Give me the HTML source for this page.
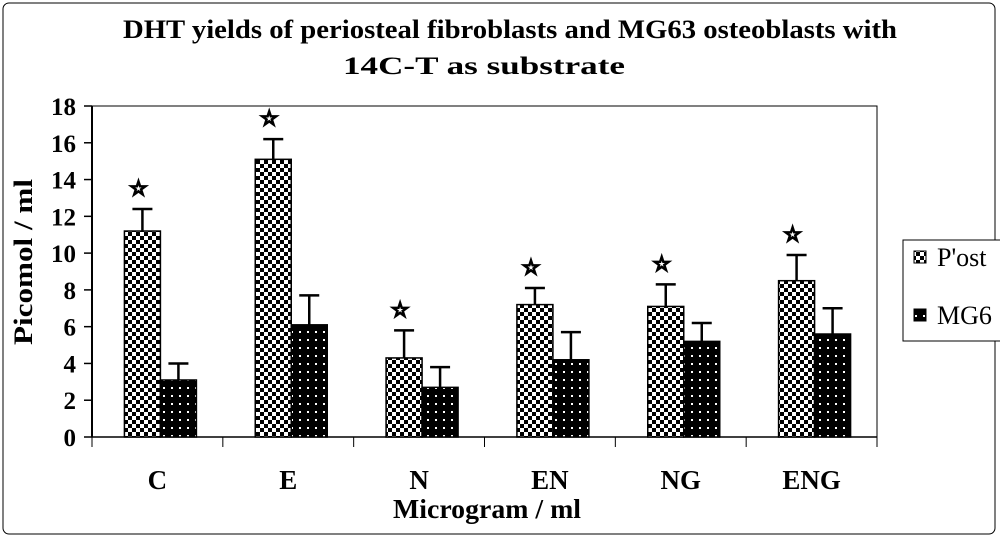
<!DOCTYPE html>
<html><head><meta charset="utf-8"><style>
body{margin:0;background:#fff;width:1000px;height:539px;overflow:hidden}
text{font-family:"Liberation Serif",serif}
</style></head><body>
<svg width="1000" height="539" viewBox="0 0 1000 539">
<defs>
<pattern id="chk" width="8" height="8" patternUnits="userSpaceOnUse">
<rect width="8" height="8" fill="#fff"/><rect width="4" height="4" fill="#000"/><rect x="4" y="4" width="4" height="4" fill="#000"/>
</pattern>
<pattern id="dots" width="8" height="8" patternUnits="userSpaceOnUse">
<rect width="8" height="8" fill="#000"/><rect x="3" y="3" width="2" height="2" fill="#fff"/>
</pattern>
</defs>
<rect x="3" y="3" width="992" height="531" rx="6" fill="#fff" stroke="#000" stroke-width="1"/>
<text x="123" y="38" textLength="774" lengthAdjust="spacingAndGlyphs" font-size="26" font-weight="bold">DHT yields of periosteal fibroblasts and MG63 osteoblasts with</text>
<text x="343" y="74" textLength="282" lengthAdjust="spacingAndGlyphs" font-size="25" font-weight="bold">14C-T as substrate</text>
<rect x="92" y="106" width="785" height="331" fill="none" stroke="#000" stroke-width="1"/>
<g id="axes"></g>
<g id="bars"></g>
<text x="32" y="262" transform="rotate(-90 32 262)" text-anchor="middle" textLength="166" lengthAdjust="spacingAndGlyphs" font-size="26" font-weight="bold">Picomol / ml</text>
<text x="487" y="518" text-anchor="middle" textLength="188" lengthAdjust="spacingAndGlyphs" font-size="27" font-weight="bold">Microgram / ml</text>
<g>
<rect x="903" y="240" width="100" height="101" fill="#fff" stroke="#000" stroke-width="1"/>
<rect x="914" y="251" width="12" height="12" fill="url(#chk)" stroke="#000"/>
<text x="937" y="266" font-size="26">P'ost</text>
<rect x="914" y="309" width="12" height="12" fill="url(#dots)" stroke="#000"/>
<text x="937" y="324" font-size="26">MG6</text>
</g>
</svg>
<script>
const categories=["C","E","N","EN","NG","ENG"];
const postValues=[11.2,15.1,4.3,7.2,7.1,8.5];
const postErrors=[1.2,1.1,1.5,0.9,1.2,1.4];
const mgValues=[3.1,6.1,2.7,4.2,5.2,5.6];
const mgErrors=[0.9,1.6,1.1,1.5,1.0,1.4];
const yTicks=[0,2,4,6,8,10,12,14,16,18];
const NS="http://www.w3.org/2000/svg";
const X0=92,X1=877,Y0=437,Y1=106,YMAX=18;
const y=v=>Y0-(v/YMAX)*(Y0-Y1);
const cw=(X1-X0)/categories.length;
const cx=i=>X0+cw*(i+0.5);
function mk(tag,attrs,parent){const e=document.createElementNS(NS,tag);for(const k in attrs)e.setAttribute(k,attrs[k]);parent.appendChild(e);return e;}
const axes=document.getElementById('axes'),bars=document.getElementById('bars');
let l=mk('line',{x1:X0,y1:Y1,x2:X0,y2:Y0,stroke:'#000','stroke-width':2},axes);


l=mk('line',{x1:X0,y1:Y0,x2:X1,y2:Y0,stroke:'#000','stroke-width':1.5},axes);


yTicks.forEach(t=>{
 mk('line',{x1:X0-8,y1:y(t),x2:X0,y2:y(t),stroke:'#000','stroke-width':1.5},axes);
 const tx=mk('text',{x:X0-16,y:y(t)+9,'text-anchor':'end','font-size':25,'font-weight':'bold'},axes);
 tx.textContent=t;
 
 
});
for(let i=0;i<=categories.length;i++){mk('line',{x1:X0+cw*i,y1:Y0,x2:X0+cw*i,y2:Y0+10,stroke:'#000'},axes);}
const bw=36;
categories.forEach((c,i)=>{
 const tx=mk('text',{x:cx(i),y:489,'text-anchor':'middle','font-size':27,'font-weight':'bold'},axes);
 tx.textContent=c;
 
 
 [[postValues,postErrors,'url(#chk)',-bw,'bar-post'],[mgValues,mgErrors,'url(#dots)',0,'bar-mg63']].forEach(([vals,errs,fill,off,name])=>{
  const xl=cx(i)+off+3, top=y(vals[i]);
  const r=mk('rect',{x:xl,y:top,width:bw,height:Y0-top,fill:fill,stroke:'#000','stroke-width':1.5},bars);
  
  
  const et=y(vals[i]+errs[i]), mx=xl+bw/2;
  mk('line',{x1:mx,y1:top,x2:mx,y2:et,stroke:'#000','stroke-width':2.5},bars);
  mk('line',{x1:mx-10,y1:et,x2:mx+10,y2:et,stroke:'#000','stroke-width':2.5},bars);
  if(name==='bar-post'){
   const s=mk('text',{x:mx-4,y:et-14,'text-anchor':'middle','font-size':20,'font-weight':'bold',fill:'#000',stroke:'#000','stroke-width':1.2},bars);
   s.textContent='☆';
   
   
  }
 });
});
</script>
</body></html>
